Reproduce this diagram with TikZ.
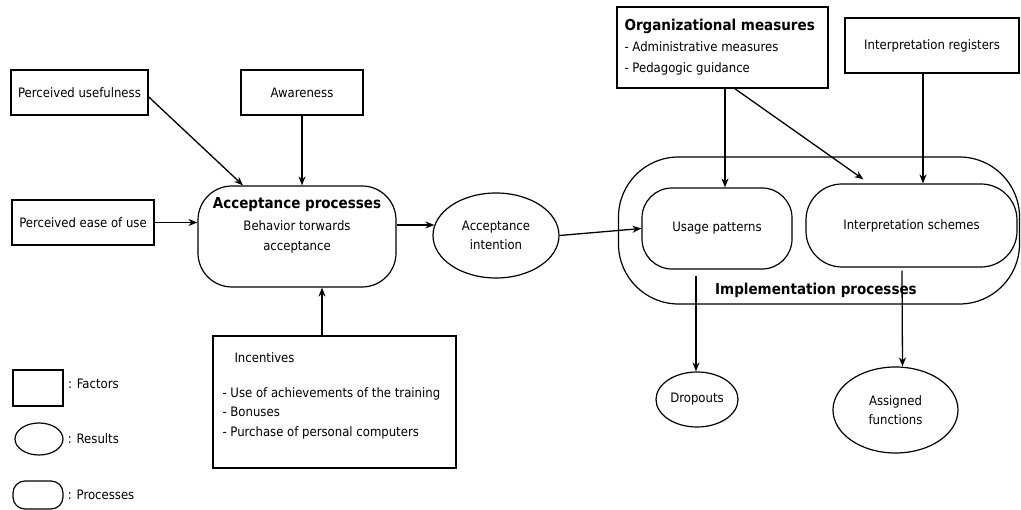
\documentclass[tikz,border=0pt]{standalone}
\usepackage{fontspec}
\setmainfont{DejaVu Sans Condensed}
\usetikzlibrary{positioning, shapes.geometric, arrows.meta, calc}

\begin{document}
\begin{tikzpicture}[
  x=1pt, y=-1pt,
  font=\fontsize{13}{16}\selectfont,
  factor/.style={rectangle, draw=black, line width=1.6pt, inner sep=0pt, align=center},
  result/.style={ellipse, draw=black, line width=1.2pt, inner sep=0pt, align=center},
  process/.style={rectangle, rounded corners=#1, draw=black, line width=1.2pt, inner sep=0pt, align=center},
  process/.default=32pt,
  title/.style={font=\fontsize{15}{18}\selectfont\bfseries},
  arrow/.style={-{Stealth[length=9pt, width=7pt]}, line width=1.3pt},
  legend/.style={anchor=west, inner sep=0pt}
]
\useasboundingbox (0,0) rectangle (1021,510);

% factors
\node[factor, minimum width=137pt, minimum height=45pt] (pu) at (79.5,92.5) {Perceived usefulness};
\node[factor, minimum width=122pt, minimum height=45pt] (aw) at (302,92.5) {Awareness};
\node[factor, minimum width=142pt, minimum height=45pt] (pe) at (83,222.5) {Perceived ease of use};
\node[factor, minimum width=243pt, minimum height=132pt] (inc) at (334.5,402) {};
\node[anchor=north west, align=left] (inctext) at (219,349)
  {\hspace{12pt}Incentives\\[19pt]
   - Use of achievements of the training\\[3.5pt]
   - Bonuses\\[3.5pt]
   - Purchase of personal computers};
\node[factor, minimum width=211pt, minimum height=81pt] (org) at (722.5,47.5) {};
\node[anchor=north west, align=left] (orgtext) at (621,16)
  {{\fontsize{15}{18}\selectfont\bfseries Organizational measures}\\[5pt]
   - Administrative measures\\[5pt]
   - Pedagogic guidance};
\node[factor, minimum width=174pt, minimum height=55pt] (ir) at (932,45.5) {Interpretation registers};

% processes
\node[process=34pt, minimum width=198pt, minimum height=101pt] (ap) at (297,236.5) {};
\node[align=center] (aptext) at (297,225)
  {{\fontsize{15}{18}\selectfont\bfseries Acceptance processes}\\[6pt]
   Behavior torwards\\[4pt] acceptance};
\node[process=60pt, minimum width=401pt, minimum height=147pt] (imp) at (819,230.5) {};
\node[title] (implabel) at (816,290) {Implementation processes};
\node[process=30pt, minimum width=150pt, minimum height=81pt] (up) at (717,228.5) {Usage patterns};
\node[process=36pt, minimum width=211pt, minimum height=83pt] (is) at (911.5,225.5) {Interpretation schemes};

% results
\node[result, minimum width=126pt, minimum height=85pt] (intent) at (496,235.5) {Acceptance\\[3pt]intention};
\node[result, minimum width=82pt, minimum height=55pt] (dr) at (697,399.5) {Dropouts};
\node[result, minimum width=125pt, minimum height=86pt] (af) at (895.5,410) {Assigned\\[3pt]functions};

% legend
\node[factor, minimum width=50pt, minimum height=36pt] (legfactor) at (38,388) {};
\node[legend, right=4pt of legfactor, yshift=4pt] (legfactortext) {: Factors};
\node[result, minimum width=48pt, minimum height=32pt] (legresult) at (39,439) {};
\node[legend, right=4pt of legresult] (legresulttext) {: Results};
\node[process=12pt, minimum width=50pt, minimum height=28pt] (legprocess) at (38,495) {};
\node[legend, right=4pt of legprocess] (legprocesstext) {: Processes};

% arrows
\draw[arrow] ($(pu.east)+(0,4.5)$) -- ($(ap.north)+(-54,0)$);
\draw[arrow] (aw.south) -- (aw.south |- ap.north);
\draw[arrow] (pe.east) -- (pe.east -| ap.west);
\draw[arrow] ($(inc.north)+(-12.5,0)$) -- ($(inc.north |- ap.south)+(-12.5,0)$);
\draw[arrow] ($(ap.east)+(0,-11.5)$) -- ($(intent.west)+(2,-10.5)$);
\draw[arrow] (intent.east) -- (up.west);
\draw[arrow] ($(org.south)+(2.5,0)$) -- ($(org.south |- up.north)+(2.5,0)$);
\draw[arrow] ($(org.south)+(12.5,0)$) -- ($(is.north)+(-48,-4)$);
\draw[arrow] ($(ir.south)+(-9,0)$) -- ($(ir.south |- is.north)+(-9,0)$);
\draw[arrow] ($(dr.north |- up.south)+(-1,6)$) -- ($(dr.north)+(-1,0)$);
\draw[arrow] ($(is.south)+(-9.5,3)$) -- ($(af.north)+(7,0)$);

\end{tikzpicture}
\end{document}
